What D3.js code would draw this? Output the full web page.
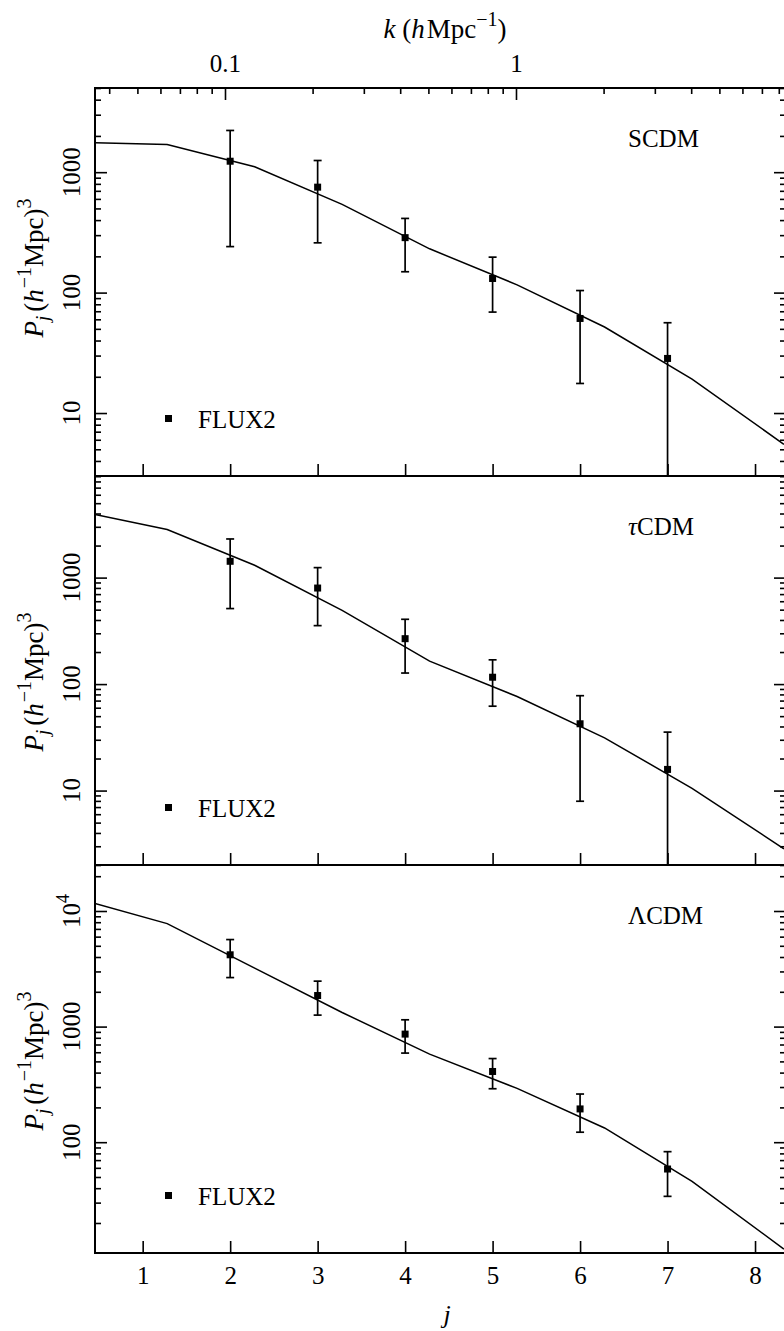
<!DOCTYPE html>
<html>
<head>
<meta charset="utf-8">
<script src="https://cdn.jsdelivr.net/npm/d3@7/dist/d3.min.js"></script>
<style>
  body { margin: 0; background: #fff; }
  text { font-family: "Liberation Serif", "DejaVu Serif", serif; fill: #000; }
</style>
</head>
<body>
<div id="chart"></div>
<script>
// ---- data ----
var models = ["SCDM", "\u03c4CDM", "\u039bCDM"];

// FLUX2 band powers at j = 2..7
var jPoints = [2, 3, 4, 5, 6, 7];
var scdmP  = [1233, 751, 286, 131, 61, 28.4];
var scdmHi = [2220, 1250, 413, 197, 104, 56.2];
var scdmLo = [241, 259, 149, 68.9, 17.6, 1];
var tcdmP  = [1423, 798, 267, 116, 42.4, 15.8];
var tcdmHi = [2306, 1241, 406, 169, 77.8, 35.4];
var tcdmLo = [512, 354, 127, 62, 7.94, 1];
var lcdmP  = [4180, 1857, 861, 409, 194, 58.6];
var lcdmHi = [5660, 2473, 1145, 529, 261, 82.8];
var lcdmLo = [2655, 1257, 590, 290, 122, 34];

// model curves
var jCurve    = [0.455, 1.28, 2.28, 3.28, 4.28, 5.28, 6.28, 7.28, 8.33];
var scdmCurve = [1755, 1698, 1109, 540, 231, 116, 51.8, 19.1, 5.5];
var tcdmCurve = [3909, 2825, 1305, 493, 164.5, 76.4, 31.3, 10.5, 2.84];
var lcdmCurve = [11590, 7780, 3210, 1324, 578, 292, 132.8, 45.8, 11.9];

// axes
var jTicks = [1, 2, 3, 4, 5, 6, 7, 8];
var jDomain = [0.455, 8.354];
var kDomain = [0.03575, 8.47];
var kLabels = [0.1, 1];
var yDomains = [[3, 5000], [2, 9000], [11, 25000]];
var yMajors = [[10, 100, 1000], [10, 100, 1000], [100, 1000, 10000]];

var points = [scdmP, tcdmP, lcdmP];
var highs = [scdmHi, tcdmHi, lcdmHi];
var lows = [scdmLo, tcdmLo, lcdmLo];
var curves = [scdmCurve, tcdmCurve, lcdmCurve];

// ---- layout ----
var svgWidth = 784;
var svgHeight = 1331;
var plotLeft = 95;
var plotRight = 786;   // right frame sits just off the page
var panelTops = [88, 476, 865];
var panelBottoms = [476, 865, 1253];
var labelCentres = [268, 682, 1061];

var svg = d3.select("#chart")
    .append("svg")
    .attr("width", svgWidth)
    .attr("height", svgHeight);

var x = d3.scaleLinear().domain(jDomain).range([plotLeft, plotRight]);
var kScale = d3.scaleLog().domain(kDomain).range([plotLeft, plotRight]);

function styleAxis(sel) {
    sel.select(".domain").remove();
    sel.selectAll(".tick line").attr("stroke", "#000").attr("stroke-width", 1.6);
    sel.selectAll("text").attr("font-family", "Liberation Serif, serif").attr("font-size", 25).attr("fill", "#000");
    sel.attr("font-family", null).attr("font-size", null);
}

models.forEach(function(name, i) {
    var top = panelTops[i];
    var bottom = panelBottoms[i];
    var y = d3.scaleLog().domain(yDomains[i]).range([bottom, top]);
    var g = svg.append("g");

    // clip to the panel box
    g.append("clipPath")
        .attr("id", "clip" + i)
        .append("rect")
        .attr("x", plotLeft)
        .attr("y", top)
        .attr("width", plotRight - plotLeft)
        .attr("height", bottom - top);

    // j ticks along the bottom of each panel
    g.append("g")
        .attr("transform", `translate(0, ${bottom})`)
        .call(d3.axisBottom(x).tickValues(jTicks).tickSizeInner(-12).tickSizeOuter(0).tickPadding(13)
            .tickFormat(i === 2 ? d3.format("d") : ""))
        .call(styleAxis);

    // log y ticks, majors and minors, both sides
    var majors = yMajors[i];
    var minors = y.ticks().filter(function(v) { return majors.indexOf(v) < 0; });
    [[d3.axisRight, plotLeft], [d3.axisLeft, plotRight]].forEach(function(side) {
        g.append("g")
            .attr("transform", `translate(${side[1]}, 0)`)
            .call(side[0](y).tickValues(majors).tickSizeInner(12).tickSizeOuter(0).tickFormat(""))
            .call(styleAxis);
        g.append("g")
            .attr("transform", `translate(${side[1]}, 0)`)
            .call(side[0](y).tickValues(minors).tickSizeInner(6).tickSizeOuter(0).tickFormat(""))
            .call(styleAxis);
    });

    // rotated y tick labels
    majors.forEach(function(v) {
        var t = g.append("text")
            .attr("transform", `translate(80, ${y(v)}) rotate(-90)`)
            .attr("text-anchor", "middle")
            .attr("font-size", 25);
        if (v >= 10000) {
            t.append("tspan").text("10");
            t.append("tspan").attr("dy", -11).attr("font-size", 18).text(Math.round(Math.log10(v)));
        } else {
            t.text(v);
        }
    });

    // frame
    g.append("rect")
        .attr("x", plotLeft)
        .attr("y", top)
        .attr("width", plotRight - plotLeft)
        .attr("height", bottom - top)
        .attr("fill", "none")
        .attr("stroke", "#000")
        .attr("stroke-width", 2);

    var inner = g.append("g").attr("clip-path", `url(#clip${i})`);

    // model curve
    var line = d3.line()
        .x(function(d, n) { return x(jCurve[n]); })
        .y(function(d) { return y(d); });
    inner.append("path")
        .datum(curves[i])
        .attr("d", line)
        .attr("fill", "none")
        .attr("stroke", "#000")
        .attr("stroke-width", 1.5);

    // error bars
    var bars = inner.selectAll(".bar")
        .data(jPoints)
        .enter()
        .append("g")
        .attr("class", "bar");
    bars.append("line")
        .attr("x1", function(d) { return x(d); })
        .attr("x2", function(d) { return x(d); })
        .attr("y1", function(d, n) { return y(highs[i][n]); })
        .attr("y2", function(d, n) { return y(lows[i][n]); })
        .attr("stroke", "#000")
        .attr("stroke-width", 1.7);
    bars.append("line")
        .attr("x1", function(d) { return x(d) - 4; })
        .attr("x2", function(d) { return x(d) + 4; })
        .attr("y1", function(d, n) { return y(highs[i][n]); })
        .attr("y2", function(d, n) { return y(highs[i][n]); })
        .attr("stroke", "#000")
        .attr("stroke-width", 1.7);
    bars.append("line")
        .attr("x1", function(d) { return x(d) - 4; })
        .attr("x2", function(d) { return x(d) + 4; })
        .attr("y1", function(d, n) { return y(lows[i][n]); })
        .attr("y2", function(d, n) { return y(lows[i][n]); })
        .attr("stroke", "#000")
        .attr("stroke-width", 1.7);

    // data squares
    inner.selectAll(".pt")
        .data(jPoints)
        .enter()
        .append("rect")
        .attr("class", "pt")
        .attr("x", function(d) { return x(d) - 3.5; })
        .attr("y", function(d, n) { return y(points[i][n]) - 3.5; })
        .attr("width", 7)
        .attr("height", 7)
        .attr("fill", "#000");

    // legend
    g.append("rect")
        .attr("x", 165)
        .attr("y", bottom - 61)
        .attr("width", 7)
        .attr("height", 7)
        .attr("fill", "#000");
    g.append("text")
        .attr("x", 198)
        .attr("y", bottom - 48)
        .attr("font-size", 25)
        .text("FLUX2");

    // model name (tau is the italic math symbol)
    var mt = g.append("text")
        .attr("x", 628)
        .attr("y", top + 59)
        .attr("font-size", 25);
    if (name.charAt(0) === "\u03c4") {
        mt.append("tspan").attr("font-style", "italic").text(name.charAt(0));
        mt.append("tspan").text(name.slice(1));
    } else {
        mt.text(name);
    }

    // y axis title
    var lab = g.append("text")
        .attr("transform", `translate(43, ${labelCentres[i]}) rotate(-90)`)
        .attr("text-anchor", "middle")
        .attr("font-size", 27);
    lab.append("tspan").attr("font-style", "italic").text("P");
    lab.append("tspan").attr("font-style", "italic").attr("font-size", 19).attr("dy", 6).text("j");
    lab.append("tspan").attr("dy", -6).attr("dx", 4).text("(");
    lab.append("tspan").attr("font-style", "italic").text("h");
    lab.append("tspan").attr("font-size", 20).attr("dy", -12).attr("dx", 1).text("\u22121");
    lab.append("tspan").attr("dy", 12).text("Mpc)");
    lab.append("tspan").attr("font-size", 20).attr("dy", -12).text("3");
});

// top k axis
svg.append("g")
    .attr("transform", `translate(0, ${panelTops[0]})`)
    .call(d3.axisTop(kScale).tickValues(kScale.ticks().filter(function(v) { return kLabels.indexOf(v) < 0; }))
        .tickSizeInner(-6).tickSizeOuter(0).tickFormat(""))
    .call(styleAxis);
svg.append("g")
    .attr("transform", `translate(0, ${panelTops[0]})`)
    .call(d3.axisTop(kScale).tickValues(kLabels).tickSizeInner(-12).tickSizeOuter(0).tickPadding(16)
        .tickFormat(function(d) { return d; }))
    .call(styleAxis);

var kTitle = svg.append("text")
    .attr("x", 445)
    .attr("y", 38)
    .attr("text-anchor", "middle")
    .attr("font-size", 27);
kTitle.append("tspan").attr("font-style", "italic").text("k");
kTitle.append("tspan").text(" (");
kTitle.append("tspan").attr("font-style", "italic").text("h");
kTitle.append("tspan").attr("dx", 2).text("Mpc");
kTitle.append("tspan").attr("font-size", 20).attr("dy", -12).text("\u22121");
kTitle.append("tspan").attr("dy", 12).text(")");

// bottom j label
svg.append("text")
    .attr("x", 447)
    .attr("y", 1323)
    .attr("text-anchor", "middle")
    .attr("font-size", 26)
    .attr("font-style", "italic")
    .text("j");
</script>
</body>
</html>
